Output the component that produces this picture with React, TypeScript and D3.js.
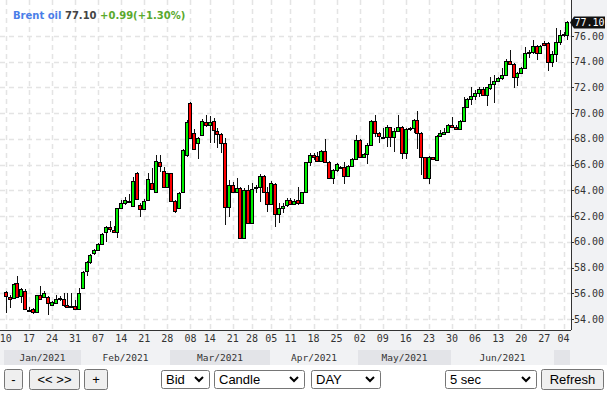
import React from "react";
import * as d3 from "d3";

// daily Brent oil candles, Jan 10 2021 -> Jul 05 2021
const opens = [
  56.13, 55.74, 55.61, 56.83, 55.79, 56.2, 54.73, 54.75, 54.57, 55.84,
  55.74, 55.74, 55.11, 55.27, 55.58, 55.58, 55.06, 55.04, 55.01, 54.75,
  56.38, 57.71, 58.41, 59.11, 59.34, 59.81, 60.74, 61.13, 60.92, 60.74,
  62.61, 62.99, 63.06, 62.79, 65.33, 62.84, 62.58, 63.23, 64.6, 63.9,
  66.18, 65.53, 64.29, 65.33, 63.18, 62.61, 63.9, 66.75, 70.77, 68.49,
  67.66, 68.31, 69.34, 69.09, 69.42, 68.65, 68.36, 67.66, 62.74, 64.42,
  63.9, 64.16, 60.27, 64.03, 61.49, 64.29, 64.29, 65.12, 63.9, 62.94,
  64.47, 62.14, 62.61, 62.86, 63.25, 62.94, 63.25, 62.99, 63.85, 66.18,
  66.75, 66.7, 66.31, 67.06, 66.18, 64.94, 65.59, 65.85, 65.79, 65.12,
  65.9, 66.42, 67.92, 66.57, 66.8, 67.53, 69.4, 68.49, 68.18, 68.18,
  68.9, 68.18, 68.65, 68.96, 66.88, 68.75, 68.83, 69.47, 68.44, 66.57,
  64.94, 66.57, 66.36, 68.23, 68.39, 68.57, 69.09, 68.96, 68.75, 69.4,
  70.51, 71.08, 71.34, 71.55, 71.86, 71.42, 71.96, 72.27, 72.53, 72.71,
  72.97, 74.09, 73.83, 72.84, 73.15, 73.54, 74.66, 74.74, 75.25, 74.71,
  75.44, 75.44, 73.96, 74.58, 75.51, 76.08, 76.1,
];
const highs = [
  56.18, 55.84, 56.77, 57.34, 56.38, 56.31, 54.91, 54.83, 55.9, 56.57,
  56.2, 55.76, 55.37, 55.87, 55.79, 56.05, 56.05, 56.0, 55.48, 56.38,
  57.76, 58.54, 59.03, 59.42, 59.89, 60.66, 61.23, 61.62, 61.23, 62.66,
  63.25, 63.51, 63.72, 65.07, 65.43, 63.0, 63.3, 65.33, 65.72, 66.75,
  66.75, 65.84, 65.38, 65.38, 63.26, 63.9, 67.2, 69.45, 70.9, 68.75,
  68.18, 69.52, 69.86, 69.78, 69.6, 68.83, 68.44, 68.05, 64.81, 64.68,
  64.94, 64.29, 64.16, 64.42, 64.55, 64.42, 65.25, 65.2, 64.29, 64.76,
  64.55, 63.0, 63.0, 63.38, 63.38, 63.3, 64.24, 63.9, 66.23, 66.88,
  66.88, 67.01, 67.14, 67.97, 66.31, 65.66, 66.1, 65.9, 66.18, 65.98,
  66.49, 68.31, 67.97, 66.88, 67.66, 69.47, 69.86, 68.57, 68.83, 69.09,
  68.96, 68.83, 69.86, 69.01, 68.83, 68.96, 69.52, 70.2, 68.57, 66.62,
  66.67, 66.62, 68.31, 68.7, 68.83, 69.14, 69.73, 69.09, 69.47, 71.29,
  71.16, 72.01, 71.81, 72.01, 72.01, 72.06, 72.84, 72.97, 72.84, 73.49,
  74.2, 74.92, 73.93, 73.23, 73.62, 75.18, 74.92, 75.7, 75.3, 75.3,
  75.6, 75.5, 74.8, 76.6, 76.5, 76.3, 77.15,
];
const lows = [
  54.45, 54.88, 55.53, 55.61, 55.22, 54.7, 54.6, 54.36, 54.54, 55.48,
  55.7, 54.31, 55.06, 55.22, 55.43, 54.96, 54.83, 54.88, 54.75, 54.67,
  56.31, 57.34, 58.28, 58.98, 59.29, 59.76, 60.01, 60.79, 60.66, 60.27,
  62.53, 62.86, 63.0, 62.74, 63.31, 61.96, 62.53, 63.18, 64.03, 63.82,
  65.46, 64.24, 64.24, 63.12, 62.27, 62.53, 63.82, 66.62, 67.97, 67.14,
  66.42, 68.23, 68.96, 67.71, 67.71, 67.27, 66.88, 61.31, 61.96, 63.77,
  63.77, 60.19, 60.22, 61.44, 61.44, 63.77, 63.12, 63.77, 62.35, 62.86,
  61.18, 61.49, 62.22, 62.74, 62.86, 62.86, 62.86, 62.94, 63.77, 65.9,
  66.36, 66.23, 66.23, 66.1, 64.86, 64.47, 65.46, 65.72, 64.47, 65.02,
  65.79, 66.36, 66.49, 66.49, 66.05, 67.45, 68.18, 67.66, 68.05, 67.35,
  67.4, 67.01, 68.57, 66.42, 66.42, 68.65, 68.44, 67.19, 65.2, 64.9,
  64.5, 66.36, 66.31, 68.18, 68.31, 68.49, 68.83, 68.7, 68.7, 69.34,
  70.38, 70.64, 71.03, 71.24, 71.34, 70.56, 71.81, 70.82, 72.45, 72.58,
  72.9, 73.75, 71.94, 72.12, 73.1, 73.49, 74.27, 74.6, 74.1, 74.6,
  75.2, 73.31, 73.6, 74.0, 75.3, 75.9, 75.7,
];
const closes = [
  55.79, 55.53, 56.7, 55.74, 56.31, 54.75, 54.7, 54.57, 55.84, 55.53,
  56.05, 55.22, 55.32, 55.58, 55.66, 55.11, 54.91, 54.93, 54.8, 56.05,
  57.68, 58.46, 58.95, 59.34, 59.81, 60.58, 61.13, 60.97, 60.77, 62.61,
  62.99, 63.23, 63.21, 64.7, 63.36, 62.58, 63.2, 64.86, 64.08, 66.31,
  65.92, 64.29, 65.33, 63.2, 62.42, 63.82, 67.12, 69.34, 68.05, 67.19,
  68.05, 69.42, 69.09, 69.34, 68.7, 68.36, 67.66, 62.74, 64.42, 63.9,
  64.16, 60.27, 64.03, 61.49, 64.08, 64.26, 65.12, 63.9, 62.94, 64.55,
  62.14, 62.61, 62.81, 63.25, 62.94, 63.18, 62.99, 63.85, 66.18, 66.75,
  66.62, 66.31, 67.06, 66.18, 64.94, 65.59, 66.03, 65.79, 65.12, 65.9,
  66.42, 67.92, 66.57, 66.8, 67.53, 69.4, 68.44, 68.23, 68.15, 68.9,
  68.18, 68.65, 68.9, 66.88, 68.75, 68.83, 69.47, 68.44, 66.57, 64.94,
  66.57, 66.42, 68.23, 68.44, 68.57, 69.09, 68.9, 68.8, 69.4, 70.51,
  71.08, 71.34, 71.55, 71.86, 71.42, 72.01, 72.27, 72.53, 72.71, 72.97,
  74.09, 73.83, 72.84, 73.15, 73.54, 74.71, 74.76, 75.25, 74.71, 75.25,
  75.31, 73.96, 74.58, 75.51, 76.08, 76.12, 77.1,
];

// first session of each week and its day label
const weekIndex = [0, 6, 12, 18, 24, 30, 36, 42, 48, 53, 59, 64, 69, 74, 80, 86, 92, 98, 104, 110, 116, 122, 128, 134, 140, 145];
const weekLabels = ["10", "17", "24", "31", "07", "14", "21", "28", "08", "14", "21", "28", "05", "11", "18", "25", "02", "09", "16", "23", "30", "06", "13", "20", "27", "04"];

const monthStart = [0, 20, 43, 69, 92, 116, 143];
const monthLabels = ["Jan/2021", "Feb/2021", "Mar/2021", "Apr/2021", "May/2021", "Jun/2021", ""];

const priceTicks = [54, 56, 58, 60, 62, 64, 66, 68, 70, 72, 74, 76];

const instrument = "Brent oil";
const lastPrice = 77.1;
const changeText = "+0.99(+1.30%)";

const W = 607;
const H = 399;
const axisX = 571;
const plotBottom = 330;
const mono = "'DejaVu Sans Mono', monospace";
const sans = "'Liberation Sans', Arial, sans-serif";

const Chevron = ({ x, y }: { x: number; y: number }) => (
  <path d={`M${x - 4},${y - 2} L${x},${y + 2} L${x + 4},${y - 2}`} fill="none" stroke="#000" strokeWidth={2} />
);

const Select = ({ x, w, label }: { x: number; w: number; label: string }) => (
  <g>
    <rect x={x + 0.5} y={370.5} width={w} height={18} rx={2} fill="#fff" stroke="#767676" />
    <text x={x + 5} y={384} fontFamily={sans} fontSize={13} fill="#000">{label}</text>
    <Chevron x={x + w - 10} y={379} />
  </g>
);

const Button = ({ x, w, label }: { x: number; w: number; label: string }) => (
  <g>
    <rect x={x + 0.5} y={369.5} width={w} height={20} rx={2} fill="#efefef" stroke="#767676" />
    <text x={x + w / 2 + 0.5} y={384} textAnchor="middle" fontFamily={sans} fontSize={13} fill="#000">{label}</text>
  </g>
);

export default function App() {
  const n = opens.length;
  const step = 3.84;
  const x0 = 4.38;
  const x = d3.scaleBand<number>().domain(d3.range(n)).range([x0, x0 + n * step]).paddingInner(0.25);
  const y = d3.scaleLinear().domain([54, 76]).range([319, 36]);
  const cx = (i: number) => (x(i) as number) + x.bandwidth() / 2;
  const edge = (i: number) => x.range()[0] + i * x.step();

  const priceY = Math.round(y(lastPrice)) + 0.5;

  return (
    <svg width={W} height={H} style={{ position: "fixed", left: 0, top: 0, background: "#fff" }}>
      {/* panels */}
      <rect x={axisX} y={0} width={W - axisX} height={plotBottom} fill="#f1f2f4" />
      <rect x={0} y={plotBottom} width={W} height={20} fill="#f1f2f4" />
      <rect x={0} y={350} width={W} height={15} fill="#f1f2f4" />

      {/* month strip */}
      {monthStart.map((s, k) => {
        const a = k === 0 ? 4 : Math.round(edge(s));
        const b = k + 1 < monthStart.length ? Math.round(edge(monthStart[k + 1])) : axisX - 1;
        return (
          <g key={k}>
            <rect x={a} y={350} width={b - a} height={15} fill={k % 2 === 0 ? "#e3e4e8" : "#f1f2f4"} />
            {monthLabels[k] && (
              <text x={(a + b) / 2} y={361} textAnchor="middle" fontFamily={mono} fontSize={9.5} fill="#333">
                {monthLabels[k]}
              </text>
            )}
          </g>
        );
      })}

      {/* grid */}
      {priceTicks.map((t) => (
        <line key={t} x1={0} x2={axisX} y1={Math.round(y(t)) + 0.5} y2={Math.round(y(t)) + 0.5} stroke="#e4e4e4" strokeWidth={1.5} strokeDasharray="5,4" />
      ))}
      {weekIndex.map((i, k) => (
        <line key={k} x1={Math.round(cx(i)) + 0.5} x2={Math.round(cx(i)) + 0.5} y1={0} y2={plotBottom} stroke="#e4e4e4" strokeWidth={1.5} strokeDasharray="5,4" />
      ))}

      {/* candles */}
      {opens.map((o, i) => {
        const c = closes[i];
        const up = c >= o;
        const top = Math.round(y(Math.max(o, c))) + 0.5;
        const bot = Math.max(Math.round(y(Math.min(o, c))) + 0.5, top + 1);
        const px = Math.round(cx(i));
        return (
          <g key={i}>
            <line x1={px + 0.5} x2={px + 0.5} y1={Math.round(y(highs[i]))} y2={Math.round(y(lows[i]))} stroke="#111" strokeWidth={1} />
            <rect
              x={px - 1.5}
              y={top}
              width={3}
              height={bot - top}
              fill={up ? "#00f000" : "#ff0000"}
              stroke="#000"
              strokeWidth={1}
            />
          </g>
        );
      })}

      {/* axes */}
      <line x1={axisX + 0.5} x2={axisX + 0.5} y1={0} y2={plotBottom} stroke="#333" />
      <line x1={0} x2={axisX} y1={plotBottom + 0.5} y2={plotBottom + 0.5} stroke="#333" />
      {priceTicks.map((t) => (
        <g key={t}>
          <line x1={axisX} x2={axisX + 3} y1={Math.round(y(t)) + 0.5} y2={Math.round(y(t)) + 0.5} stroke="#333" />
          <text x={axisX + 3} y={y(t) + 3.5} fontFamily={mono} fontSize={10} fill="#333">
            {d3.format(".2f")(t)}
          </text>
        </g>
      ))}
      {weekIndex.map((i, k) => (
        <text key={k} x={cx(i)} y={342} textAnchor="middle" fontFamily={mono} fontSize={10} fill="#333">
          {weekLabels[k]}
        </text>
      ))}

      {/* last price marker */}
      <path
        d={`M${axisX - 1},${priceY} L${axisX + 3},${priceY - 6} L${W - 2},${priceY - 6} L${W - 2},${priceY + 6} L${axisX + 3},${priceY + 6} Z`}
        fill="#111"
      />
      <text x={axisX + 3.5} y={priceY + 3.5} fontFamily={mono} fontSize={10} fill="#fff">
        {d3.format(".2f")(lastPrice)}
      </text>

      {/* title */}
      <text x={13} y={19} fontFamily="'DejaVu Sans', sans-serif" fontSize={10} fontWeight="bold">
        <tspan fill="#4a7ee8">{instrument}</tspan>
        <tspan fill="#444"> {d3.format(".2f")(lastPrice)}</tspan>
        <tspan fill="#5aa92d"> {changeText}</tspan>
      </text>

      {/* controls */}
      <Button x={4} w={18} label="-" />
      <Button x={29} w={50} label="<< >>" />
      <Button x={84} w={23} label="+" />
      <Select x={161} w={48} label="Bid" />
      <Select x={214} w={90} label="Candle" />
      <Select x={311} w={69} label="DAY" />
      <Select x={445} w={91} label="5 sec" />
      <Button x={541} w={62} label="Refresh" />
    </svg>
  );
}
